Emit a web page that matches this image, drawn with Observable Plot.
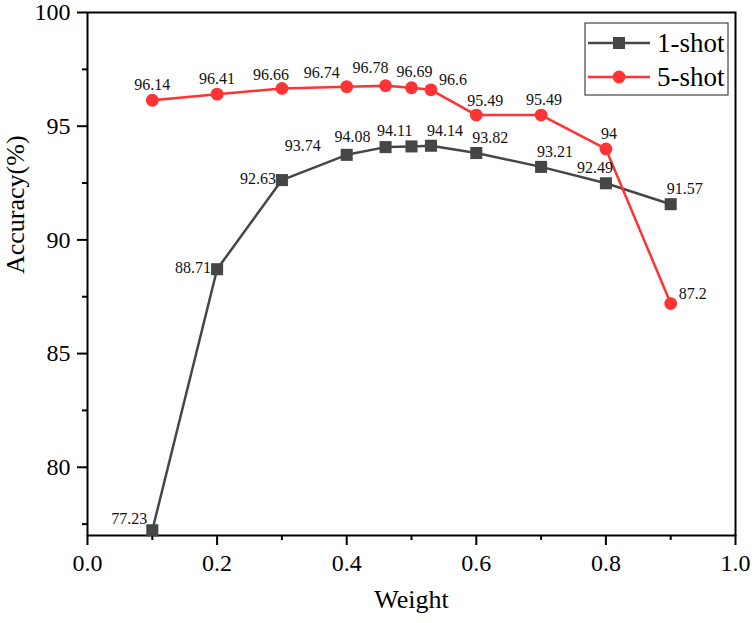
<!DOCTYPE html>
<html><head><meta charset="utf-8">
<script src="https://cdn.jsdelivr.net/npm/d3@7"></script>
<script src="https://cdn.jsdelivr.net/npm/@observablehq/plot@0.6"></script>
<style>
body{margin:0;background:#fff;}
#chart{position:relative;width:754px;height:623px;}
#chart svg, #chart svg text{font-family:"Liberation Serif","Times New Roman","DejaVu Serif",serif;}
</style>
</head><body><div id="chart"></div>
<script>
const weights = [0.1, 0.2, 0.3, 0.4, 0.46, 0.5, 0.53, 0.6, 0.7, 0.8, 0.9];
const oneShot = [77.23, 88.71, 92.63, 93.74, 94.08, 94.11, 94.14, 93.82, 93.21, 92.49, 91.57];
const fiveShot = [96.14, 96.41, 96.66, 96.74, 96.78, 96.69, 96.6, 95.49, 95.49, 94, 87.2];
const seriesNames = ["1-shot", "5-shot"];
const xTicks = [0, 0.2, 0.4, 0.6, 0.8, 1.0];
const xMinor = [0.1, 0.3, 0.5, 0.7, 0.9];
const yTicks = [80, 85, 90, 95, 100];
const yMinor = [77.5, 82.5, 87.5, 92.5, 97.5];
const xTitle = "Weight";
const yTitle = "Accuracy(%)";

const colors = {"1-shot": "#464646", "5-shot": "#ff3333"};
const values = {"1-shot": oneShot, "5-shot": fiveShot};
const rows = seriesNames.flatMap(s => weights.map((w, i) => ({series: s, weight: w, acc: values[s][i], i})));
const one = rows.filter(d => d.series === "1-shot");
const five = rows.filter(d => d.series === "5-shot");
const font = "'Liberation Serif', 'Times New Roman', 'DejaVu Serif', serif";
const lab = (data, opts) => Plot.text(data, {x: "weight", y: "acc", text: d => String(d.acc), fontSize: 16, fill: "#111", fontFamily: font, ...opts});

const chart = Plot.plot({
  width: 754, height: 623,
  marginLeft: 87, marginRight: 19, marginTop: 12, marginBottom: 88,
  style: {fontFamily: font, background: "#fff", overflow: "visible"},
  x: {domain: [0, 1]},
  y: {domain: [77, 100]},
  marks: [
    Plot.axisX({ticks: xTicks, tickSize: 10, tickPadding: 8, tickFormat: d3.format(".1f"), fontSize: 24, strokeWidth: 2, stroke: "#000", fill: "#000", label: null}),
    Plot.axisX({ticks: xMinor, tickSize: 5, text: null, strokeWidth: 2, stroke: "#000", label: null}),
    Plot.axisY({ticks: yTicks, tickSize: 10, tickPadding: 7, tickFormat: d => String(d), fontSize: 24, strokeWidth: 2, stroke: "#000", fill: "#000", label: null}),
    Plot.axisY({ticks: yMinor, tickSize: 5, text: null, strokeWidth: 2, stroke: "#000", label: null}),
    Plot.frame({stroke: "#000", strokeWidth: 2}),
    Plot.line(rows, {x: "weight", y: "acc", z: "series", stroke: d => colors[d.series], strokeWidth: 2.5}),
    Plot.dot(one, {x: "weight", y: "acc", symbol: "square", r: 6.8, fill: colors["1-shot"], stroke: null}),
    Plot.dot(five, {x: "weight", y: "acc", symbol: "circle", r: 6.4, fill: colors["5-shot"], stroke: null}),
    // 1-shot labels
    lab(one.filter(d => d.i === 0), {textAnchor: "end", dx: -5, dy: -11}),
    lab(one.filter(d => d.i === 1 || d.i === 2), {textAnchor: "end", dx: -6, dy: -1}),
    lab(one.filter(d => d.i === 3), {textAnchor: "end", dx: -26, dy: -9}),
    lab(one.filter(d => d.i === 4), {textAnchor: "end", dx: -15, dy: -10}),
    lab(one.filter(d => d.i === 5), {textAnchor: "end", dx: 1, dy: -16}),
    lab(one.filter(d => d.i >= 6 && d.i !== 9), {textAnchor: "start", dx: -4, dy: -15}),
    lab(one.filter(d => d.i === 9), {textAnchor: "end", dx: 7, dy: -15}),
    // 5-shot labels
    lab(five.filter(d => d.i <= 1), {textAnchor: "middle", dy: -15}),
    lab(five.filter(d => d.i === 2), {textAnchor: "middle", dx: -11, dy: -14}),
    lab(five.filter(d => d.i === 3), {textAnchor: "middle", dx: -25, dy: -14}),
    lab(five.filter(d => d.i === 4), {textAnchor: "middle", dx: -15, dy: -18}),
    lab(five.filter(d => d.i === 5), {textAnchor: "middle", dx: 3, dy: -16}),
    lab(five.filter(d => d.i === 7), {textAnchor: "middle", dx: 9, dy: -14}),
    lab(five.filter(d => d.i === 8 || d.i === 9), {textAnchor: "middle", dx: 3, dy: -15}),
    lab(five.filter(d => d.i === 6 || d.i === 10), {textAnchor: "start", dx: 8, dy: -10}),
    Plot.text([xTitle], {frameAnchor: "bottom", dy: 72, fontSize: 26, fill: "#000", fontFamily: font}),
    Plot.text([yTitle], {frameAnchor: "left", dx: -72, rotate: -90, fontSize: 26, fill: "#000", fontFamily: font})
  ]
});
document.getElementById("chart").appendChild(chart);

// legend
const svg = d3.select(chart);
const lg = svg.append("g").attr("transform", "translate(585,23)");
lg.append("rect").attr("width", 143).attr("height", 72).attr("fill", "#fff").attr("stroke", "#444").attr("stroke-width", 1.2);
seriesNames.forEach((s, k) => {
  const y = 20 + k * 34;
  const g = lg.append("g").attr("transform", `translate(0,${y})`);
  g.append("line").attr("x1", 3).attr("x2", 65).attr("y1", 0).attr("y2", 0).attr("stroke", colors[s]).attr("stroke-width", 2.5);
  if (k === 0) g.append("rect").attr("x", 28).attr("y", -6).attr("width", 12).attr("height", 12).attr("fill", colors[s]);
  else g.append("circle").attr("cx", 34).attr("cy", 0).attr("r", 6.4).attr("fill", colors[s]);
  g.append("text").attr("x", 72).attr("y", 0).attr("dy", "0.34em").attr("text-anchor", "start")
    .style("font-size", "27px").style("font-family", font).attr("fill", "#000").text(s);
});
</script>
</body></html>
